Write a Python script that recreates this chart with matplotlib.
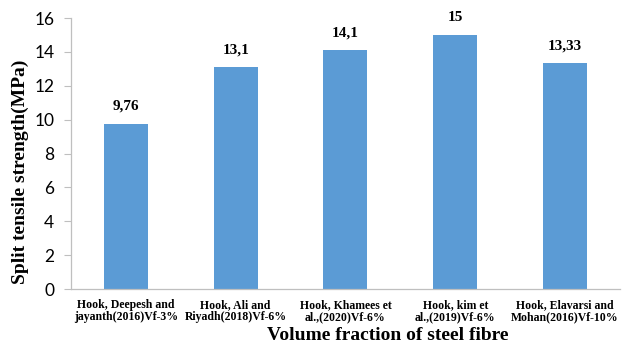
import matplotlib
matplotlib.use('Agg')
import matplotlib.pyplot as plt

# Data
categories = [
    'Hook, Deepesh and\njayanth(2016)Vf-3%',
    'Hook, Ali and\nRiyadh(2018)Vf-6%',
    'Hook, Khamees et\nal.,(2020)Vf-6%',
    'Hook, kim et\nal.,(2019)Vf-6%',
    'Hook, Elavarsi and\nMohan(2016)Vf-10%',
]
values = [9.76, 13.1, 14.1, 15, 13.33]
value_labels = ['9,76', '13,1', '14,1', '15', '13,33']
y_ticks = [0, 2, 4, 6, 8, 10, 12, 14, 16]

serif = 'Liberation Serif'
gray = '#bfbfbf'

fig = plt.figure(figsize=(6.23, 3.47), dpi=100)
ax = fig.add_axes([0.114, 0.167, 0.881, 0.781])

x = range(len(categories))
bars = ax.bar(x, values, width=0.4, color='#5b9bd5')

for xi, v, lab in zip(x, values, value_labels):
    ax.annotate(lab, (xi, v), xytext=(0, 8), textcoords='offset points',
                ha='center', va='bottom', fontsize=11, fontweight='bold',
                family=serif)

ax.set_xlim(-0.5, len(categories) - 0.5)
ax.set_ylim(0, 16)
ax.set_yticks(y_ticks)
ax.set_yticklabels([str(t) for t in y_ticks], family='Lato', fontsize=12.5)
ax.set_xticks(list(x))
ax.set_xticklabels(categories, family=serif, fontweight='bold', fontsize=8.5,
                   linespacing=1.05, multialignment='center')

ax.tick_params(axis='y', length=5, width=0.8, color=gray, pad=7)
ax.tick_params(axis='x', length=0, pad=7)

for s in ['top', 'right']:
    ax.spines[s].set_visible(False)
for s in ['left', 'bottom']:
    ax.spines[s].set_color(gray)
    ax.spines[s].set_linewidth(0.9)

fig.text(0.623, 0.032, 'Volume fraction of steel fibre', ha='center',
         va='center', fontsize=14, fontweight='bold', family=serif)
fig.text(0.032, 0.504, 'Split tensile strength(MPa)', ha='center',
         va='center', rotation=90, fontsize=14, fontweight='bold', family=serif)

fig.savefig('out.png', dpi=100)
